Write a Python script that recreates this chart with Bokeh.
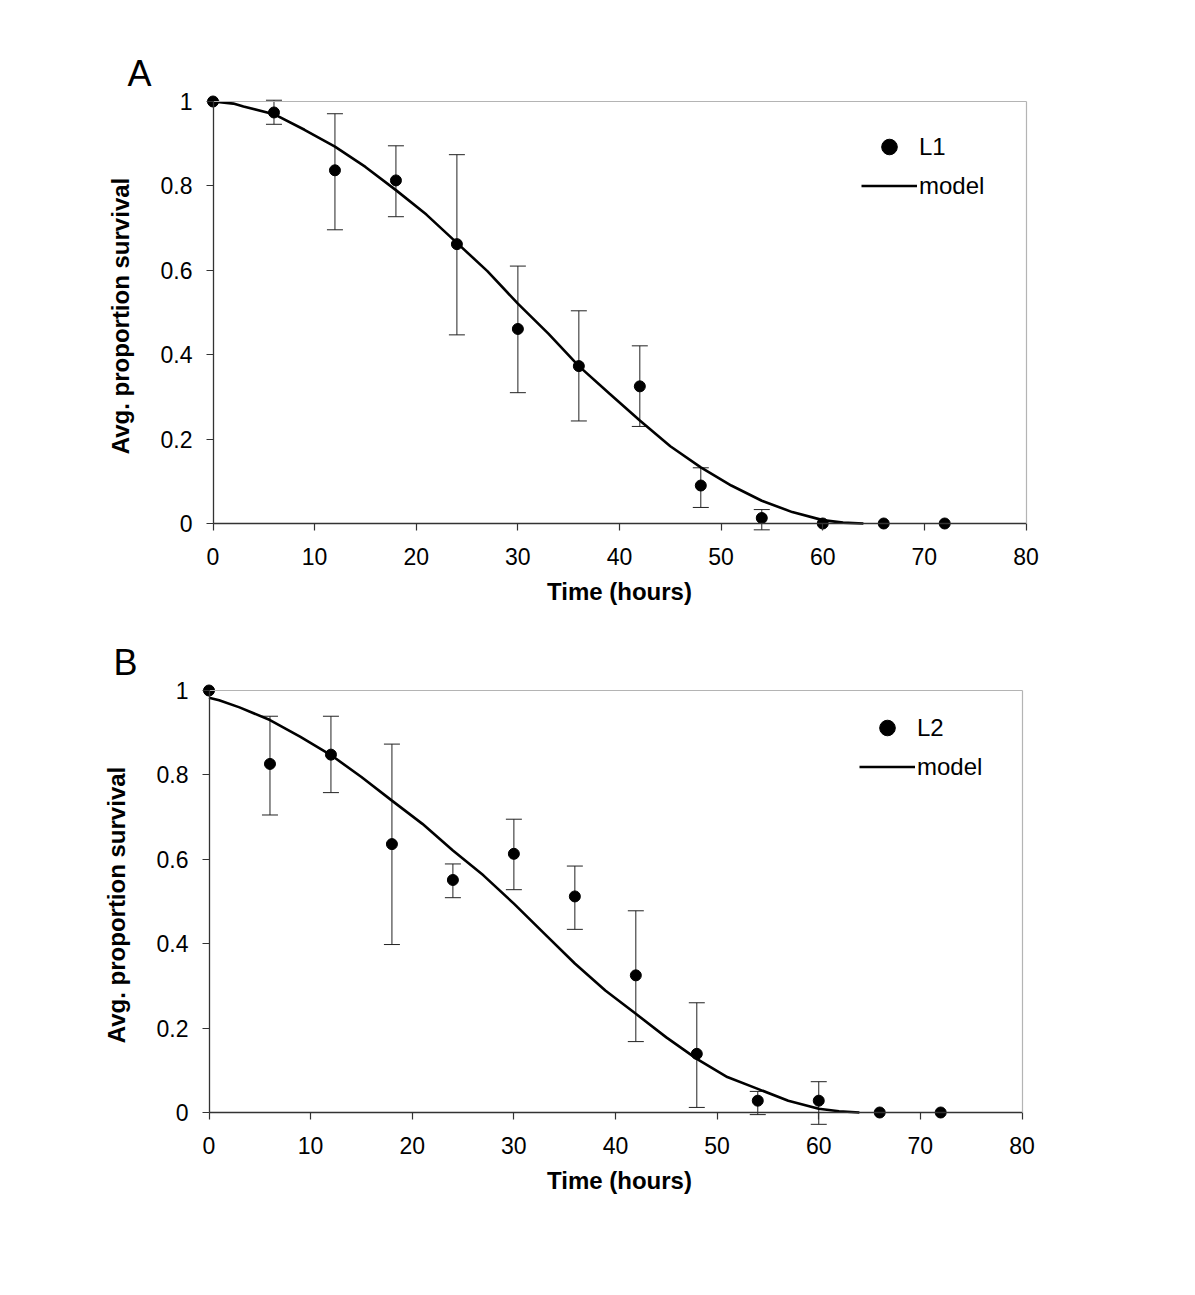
from bokeh.plotting import figure
from bokeh.models import (ColumnDataSource, Whisker, TeeHead, LinearAxis, FixedTicker,
                          Legend, LegendItem, Range1d)
from bokeh.layouts import column
from bokeh.embed import file_html
from bokeh.resources import INLINE

# ---------------- data ----------------
hours = [0, 6, 12, 18, 24, 30, 36, 42, 48, 54, 60, 66, 72]

l1_mean = [1.0, 0.974, 0.837, 0.813, 0.662, 0.461, 0.373, 0.325, 0.090, 0.013, 0.0, 0.0, 0.0]
l1_low = [1.0, 0.946, 0.696, 0.727, 0.447, 0.310, 0.243, 0.230, 0.038, -0.015, 0.0, 0.0, 0.0]
l1_high = [1.0, 1.003, 0.971, 0.895, 0.874, 0.610, 0.504, 0.421, 0.132, 0.033, 0.0, 0.0, 0.0]

model1_t = [0, 2, 3, 6, 9, 12, 15, 18, 21, 24, 27, 30, 33, 36, 39, 42, 45, 48, 51, 54, 57, 60, 62, 64]
model1_y = [1.0, 0.995, 0.988, 0.97, 0.933, 0.893, 0.845, 0.79, 0.732, 0.665, 0.598, 0.521, 0.45,
            0.373, 0.308, 0.244, 0.183, 0.133, 0.09, 0.054, 0.027, 0.008, 0.002, 0.0]

l2_mean = [1.0, 0.826, 0.848, 0.636, 0.551, 0.613, 0.512, 0.325, 0.139, 0.028, 0.028, 0.0, 0.0]
l2_low = [1.0, 0.705, 0.758, 0.398, 0.509, 0.528, 0.434, 0.168, 0.012, -0.005, -0.028, 0.0, 0.0]
l2_high = [1.0, 0.939, 0.939, 0.873, 0.589, 0.695, 0.584, 0.478, 0.260, 0.050, 0.073, 0.0, 0.0]

model2_t = [0, 1, 3, 6, 9, 12, 15, 18, 21, 24, 27, 30, 33, 36, 39, 42, 45, 48, 51, 54, 57, 60, 62, 64]
model2_y = [0.983, 0.977, 0.96, 0.93, 0.89, 0.847, 0.795, 0.739, 0.684, 0.621, 0.562, 0.495, 0.424,
            0.353, 0.289, 0.234, 0.178, 0.127, 0.084, 0.056, 0.028, 0.009, 0.003, 0.0]

x_ticks = [0, 10, 20, 30, 40, 50, 60, 70, 80]
y_ticks = [0, 0.2, 0.4, 0.6, 0.8, 1]
y_tick_labels = {0: "0", 0.2: "0.2", 0.4: "0.4", 0.6: "0.6", 0.8: "0.8", 1: "1"}

FONT = "Liberation Sans"
AXIS_COL = "#333333"
FRAME_COL = "#b4b4b4"

PX_PER_HOUR = 813 / 80.0
PX_PER_UNIT = 422.0
YPAD_TOP = 8.0 / PX_PER_UNIT
YPAD_BOT = 15.0 / PX_PER_UNIT
FW = 838
FH = 8 + 422 + 15


def make_panel(letter, series_name, t, mean, low, high, mt, my, pad_left_px, top, bottom,
               letter_dx, leg_loc):
    x0 = -pad_left_px / PX_PER_HOUR
    x1 = 80 + (FW - 813 - pad_left_px) / PX_PER_HOUR
    p = figure(frame_width=FW, frame_height=FH, output_backend="svg", toolbar_location=None,
               x_range=Range1d(x0, x1), y_range=Range1d(-YPAD_BOT, 1 + YPAD_TOP),
               x_axis_location=None, y_axis_location=None)
    p.min_border_left = 200
    p.min_border_right = 90
    p.min_border_top = top
    p.min_border_bottom = bottom
    p.outline_line_color = None
    p.xgrid.visible = False
    p.ygrid.visible = False

    # panel letter
    p.title.text = letter
    p.title.align = "left"
    p.title.offset = letter_dx
    p.title.standoff = 0
    p.title.vertical_align = "bottom"
    p.title.text_font = FONT
    p.title.text_font_size = "36px"
    p.title.text_font_style = "normal"
    p.title.text_color = "black"

    # label-only axes at the frame edges (tick labels and titles)
    xlab = LinearAxis(ticker=FixedTicker(ticks=x_ticks), axis_label="Time (hours)")
    ylab = LinearAxis(ticker=FixedTicker(ticks=y_ticks), axis_label="Avg. proportion survival")
    ylab.major_label_overrides = y_tick_labels
    for ax in (xlab, ylab):
        ax.axis_line_color = None
        ax.major_tick_line_color = None
        ax.minor_tick_line_color = None
        ax.major_tick_in = 0
        ax.major_tick_out = 0
        ax.minor_tick_out = 0
        ax.major_label_text_font = FONT
        ax.major_label_text_font_size = "23px"
        ax.major_label_text_color = "black"
        ax.axis_label_text_font = FONT
        ax.axis_label_text_font_size = "24px"
        ax.axis_label_text_font_style = "bold"
        ax.axis_label_text_color = "black"
    xlab.major_label_standoff = 9
    xlab.axis_label_standoff = 10
    ylab.major_label_standoff = int(round(8 + (12.5 - pad_left_px)))
    ylab.axis_label_standoff = 24
    p.add_layout(xlab, "below")
    p.add_layout(ylab, "left")

    # axis lines and outward ticks at x = 0 and y = 0 (ticks carry no labels)
    xax = LinearAxis(fixed_location=0, bounds=(0, 80), ticker=FixedTicker(ticks=[], minor_ticks=x_ticks))
    yax = LinearAxis(fixed_location=0, bounds=(0, 1), ticker=FixedTicker(ticks=[], minor_ticks=y_ticks))
    for ax in (xax, yax):
        ax.axis_line_color = AXIS_COL
        ax.axis_line_width = 1.3
        ax.major_tick_line_color = None
        ax.major_tick_out = 0
        ax.minor_tick_line_color = AXIS_COL
        ax.minor_tick_line_width = 1.2
        ax.minor_tick_in = 0
        ax.minor_tick_out = 7
        ax.major_label_standoff = 0
    p.add_layout(xax, "below")
    p.add_layout(yax, "left")

    # light frame lines at y = 1 and x = 80
    for loc, bnds, side in ((1, (0, 80), "above"), (80, (0, 1), "right")):
        fa = LinearAxis(fixed_location=loc, bounds=bnds, ticker=FixedTicker(ticks=[]),
                        axis_line_color=FRAME_COL, axis_line_width=1.2,
                        major_tick_line_color=None, minor_tick_line_color=None,
                        major_tick_out=0, minor_tick_out=0, major_label_standoff=0)
        p.add_layout(fa, side)

    # error bars (only where there is a spread)
    idx = [i for i in range(len(t)) if high[i] > low[i]]
    esrc = ColumnDataSource(dict(t=[t[i] for i in idx], low=[low[i] for i in idx],
                                 high=[high[i] for i in idx]))
    wh = Whisker(base="t", lower="low", upper="high", source=esrc,
                 line_color="#222222", line_width=1,
                 upper_head=TeeHead(size=16, line_color="#222222", line_width=1),
                 lower_head=TeeHead(size=16, line_color="#222222", line_width=1))
    p.add_layout(wh)

    ln = p.line(mt, my, line_color="black", line_width=2.6)
    sc = p.scatter(t, mean, size=11, fill_color="black", line_color="black")

    leg = Legend(items=[LegendItem(label=series_name, renderers=[sc]),
                        LegendItem(label="model", renderers=[ln])],
                 location=leg_loc, orientation="vertical",
                 glyph_width=56, glyph_height=39, label_height=39, spacing=0,
                 padding=10, label_standoff=2, margin=0,
                 label_text_font=FONT, label_text_font_size="24px", label_text_color="black",
                 border_line_color=None, background_fill_alpha=0)
    p.add_layout(leg)
    return p


pA = make_panel("A", "L1", hours, l1_mean, l1_low, l1_high, model1_t, model1_y,
                pad_left_px=12.5, top=93, bottom=90, letter_dx=-73, leg_loc=(661, 333))
pB = make_panel("B", "L2", hours, l2_mean, l2_low, l2_high, model2_t, model2_y,
                pad_left_px=8.5, top=54, bottom=90, letter_dx=-87, leg_loc=(659, 341))

layout = column(pA, pB, spacing=0)
open("out.html", "w").write(file_html(layout, INLINE))
